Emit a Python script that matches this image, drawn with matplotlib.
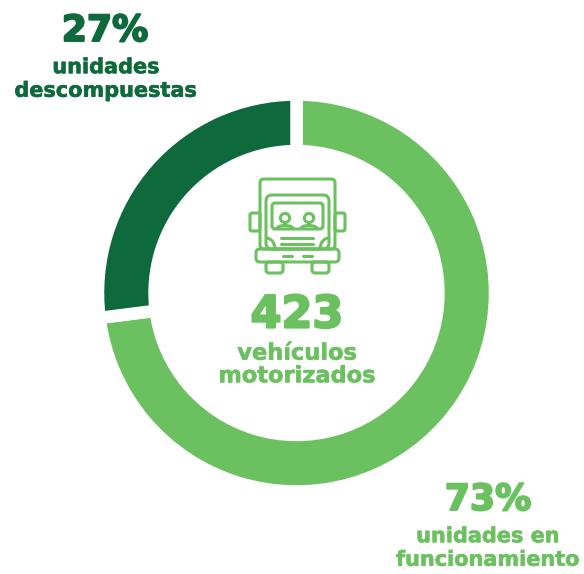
import matplotlib
matplotlib.use("Agg")
import matplotlib.pyplot as plt
import matplotlib.patheffects as pe
from matplotlib.patches import FancyBboxPatch, Circle, Arc

shares = [73, 27]
colors = ["#6BC15F", "#0E6A3C"]
big_labels = ["73%", "27%"]
small_labels = ["unidades en\nfuncionamiento", "unidades\ndescompuestas"]
total_value = "423"
total_label = "vehículos\nmotorizados"

W, H = 584, 574
plt.rcParams['font.family'] = ['DejaVu Sans']
fig = plt.figure(figsize=(W/100, H/100), dpi=100)

# ring: the white edge eats half its width on each side, so the pie is oversized
cx, cy, R = 296.5, 293, 198.5
axp = fig.add_axes([(cx-R)/W, 1-(cy+R)/H, 2*R/W, 2*R/H])
axp.pie(shares, colors=colors, startangle=90, counterclock=False, radius=1,
        wedgeprops=dict(width=0.285, edgecolor="white", linewidth=9))
axp.set_xlim(-1, 1); axp.set_ylim(-1, 1)

ax = fig.add_axes([0, 0, 1, 1])
ax.set_xlim(0, W); ax.set_ylim(H, 0); ax.axis("off"); ax.patch.set_alpha(0)

g, d = colors
def label(x, y, s, c, size, stroke, ls=1.0):
    ax.text(x, y, s, color=c, fontsize=size, fontweight="bold", ha="center", va="center",
            linespacing=ls, path_effects=[pe.withStroke(linewidth=stroke, foreground=c)])
label(105, 31, big_labels[1], d, 26, 1.4)
label(106, 79, small_labels[1], d, 15, 0.4, 1.22)
label(488, 500, big_labels[0], g, 26, 1.4)
label(488, 548, small_labels[0], g, 15, 0.4, 1.22)
label(297, 315, total_value, g, 32, 1.6)
label(297, 365, total_label, g, 16.2, 0.4, 1.17)

LW = 2.2
def rr(x, y, w, h, rad=3):
    ax.add_patch(FancyBboxPatch((x+rad, y+rad), w-2*rad, h-2*rad,
                                boxstyle=f"round,pad={rad}", fc="none", ec=g, lw=LW))
def seg(x0, x1, y):
    ax.plot([x0, x1], [y, y], color=g, lw=LW, solid_capstyle="round")

rr(260, 179, 75, 70, 4)
rr(266, 195, 63, 54, 6)
rr(272, 203, 51, 26, 3)
rr(250, 213, 10, 18, 2)
rr(335, 213, 10, 18, 2)
rr(256, 249, 83, 13, 4)
rr(266, 262, 17, 11, 3)
rr(312, 262, 17, 11, 3)
for x in (285, 309):
    ax.add_patch(Circle((x, 218), 4.6, fc="none", ec=g, lw=LW))
    ax.add_patch(Arc((x, 229), 17, 7, theta1=180, theta2=360, ec=g, lw=LW))
seg(281, 313, 238)
seg(281, 313, 244)
seg(283, 292, 256)
seg(303, 312, 256)
ax.add_patch(Arc((266, 249), 18, 22, theta1=270, theta2=360, ec=g, lw=LW))
ax.add_patch(Arc((329, 249), 18, 22, theta1=180, theta2=270, ec=g, lw=LW))

fig.savefig("out.png", dpi=100)
